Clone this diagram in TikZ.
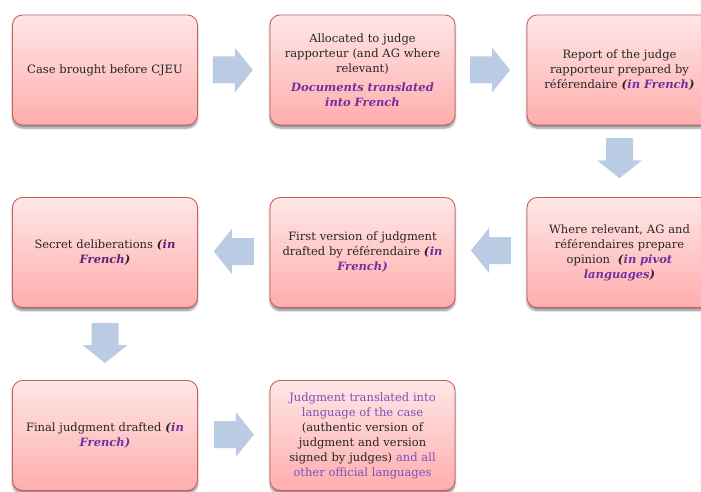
\documentclass[tikz,border=0pt]{standalone}
\usepackage{fontspec}
\setmainfont{DejaVu Serif}
\usetikzlibrary{shadows.blur,calc}
\definecolor{txt}{HTML}{262626}
\definecolor{purp}{HTML}{7030A0}
\definecolor{dpurp}{HTML}{63207A}
\definecolor{lpurp}{HTML}{7B50C2}
\definecolor{arrowc}{HTML}{B9CCE4}
\definecolor{boxtop}{HTML}{FFE6E6}
\definecolor{boxbot}{HTML}{FFADAD}
\definecolor{boxline}{HTML}{C95F5C}
\newcommand{\bip}[1]{\textbf{\textit{\color{purp}#1}}}
\newcommand{\bi}[1]{\textbf{\textit{#1}}}
\newcommand{\lp}[1]{\textcolor{lpurp}{#1}}
\begin{document}
\begin{tikzpicture}[x=1pt,y=-1pt,
  stepbox/.style={rectangle, rounded corners=10pt, draw=boxline, line width=0.9pt,
    top color=boxtop, bottom color=boxbot, minimum width=185pt, minimum height=110pt,
    text width=184pt, align=center, inner sep=0pt, text=txt,
    font=\fontsize{11.5pt}{15pt}\selectfont,
    blur shadow={shadow xshift=0pt, shadow yshift=-3pt, shadow blur steps=6, shadow opacity=45}},
  blockarrow/.pic={\fill[arrowc] (-20,-13.5) -- (2,-13.5) -- (2,-22.5) -- (20,0) -- (2,22.5) -- (2,13.5) -- (-20,13.5) -- cycle;}]
\useasboundingbox (0,0) rectangle (701,492);
\clip (0,0) rectangle (701,492);

\node[stepbox] (b1) at (105,70) {Case brought before CJEU};
\node[stepbox] (b2) at (362.5,70) {Allocated to judge\\ rapporteur (and AG where\\ relevant)\\[4pt] \bip{Documents translated}\\ \bip{into French}};
\node[stepbox] (b3) at (619.5,70) {Report of the judge\\ rapporteur prepared by\\ référendaire \bi{(}\bip{in French}\bi{)}};
\node[stepbox] (b4) at (619.5,252.5) {Where relevant, AG and\\ référendaires prepare\\ opinion \ \bi{(}\bip{in pivot}\\ \bip{languages}\bi{)}};
\node[stepbox] (b5) at (362.5,252.5) {First version of judgment\\ drafted by référendaire \bi{(}\bip{in}\\ \bip{French)}};
\node[stepbox] (b6) at (105,252.5) {Secret deliberations \bi{(}\textbf{\textit{\color{dpurp}in}}\\ \textbf{\textit{\color{dpurp}French}}\bi{)}};
\node[stepbox] (b7) at (105,435.5) {Final judgment drafted \bi{(}\bip{in}\\ \bip{French)}};
\node[stepbox] (b8) at (362.5,435.5) {\lp{Judgment translated into}\\ \lp{language of the case}\\ (authentic version of\\ judgment and version\\ signed by judges) \lp{and all}\\ \lp{other official languages}};

\path ($(b1.east)!0.5!(b2.west)+(-1,0)$) pic (a1) {blockarrow};
\path ($(b2.east)!0.5!(b3.west)+(-1,0)$) pic (a2) {blockarrow};
\path ($(b3.south)!0.5!(b4.north)+(0,-3)$) pic[rotate=-90] (a3) {blockarrow};
\path ($(b4.west)!0.5!(b5.east)+(0,-2)$) pic[rotate=180] (a4) {blockarrow};
\path ($(b5.west)!0.5!(b6.east)+(0,-1)$) pic[rotate=180] (a5) {blockarrow};
\path ($(b6.south)!0.5!(b7.north)+(0,-1)$) pic[rotate=-90] (a6) {blockarrow};
\path ($(b7.east)!0.5!(b8.west)+(0,-1)$) pic (a7) {blockarrow};
\end{tikzpicture}
\end{document}
